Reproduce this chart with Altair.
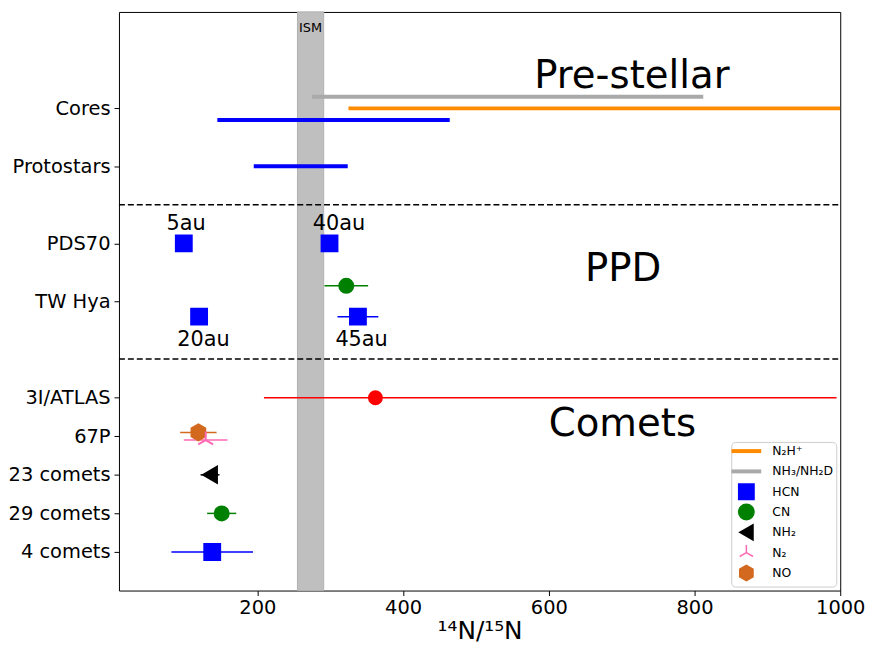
import altair as alt
import pandas as pd

FONT = "DejaVu Sans"

# ---- y-axis categories ----
cat_names = ["4 comets", "29 comets", "23 comets", "67P", "3I/ATLAS", "TW Hya", "PDS70", "Protostars", "Cores"]
cat_pos = [0, 1, 2, 3, 4, 6.5, 8, 10, 11.5]

# ---- legend species ----
species = ["N₂H⁺", "NH₃/NH₂D", "HCN", "CN", "NH₂", "N₂", "NO"]
species_colors = ["#ff8c00", "#a9a9a9", "#0000ff", "#008000", "#000000", "#ff69b4", "#d2691e"]
TRI_UP = "M0,0L0,-1M0,0L-0.866,0.5M0,0L0.866,0.5"
HEXAGON = "M0,-1L0.866,-0.5L0.866,0.5L0,1L-0.866,0.5L-0.866,-0.5Z"
species_shapes = ["stroke", "stroke", "square", "circle", "triangle-left", TRI_UP, HEXAGON]
species_sizes = [289, 289, 256, 200, 260, 300, 256]

# ---- thick range lines ----
rng_species = ["NH₃/NH₂D", "N₂H⁺", "HCN", "HCN"]
rng_y = [11.8, 11.5, 11.2, 10]
rng_lo = [275, 325, 145, 195]
rng_hi = [812, 1000, 464, 324]

# ---- points with error bars ----
pt_species = ["HCN", "HCN", "CN", "HCN", "HCN", "NO", "N₂", "NH₂", "CN", "HCN"]
pt_y = [8, 8, 6.9, 6.1, 6.1, 3.1, 2.9, 2, 1, 0]
pt_x = [99, 299, 322, 120, 338, 119, 129, 135, 151, 138]
pt_lo = [99, 299, 292, 120, 310, 94, 99, 122, 131, 82]
pt_hi = [99, 299, 352, 120, 366, 144, 159, 148, 171, 194]

# ---- 3I/ATLAS ----
atlas_y = [4]
atlas_x = [362]
atlas_lo = [209]
atlas_hi = [995]

# ---- ISM band ----
ism_lo = [255]
ism_hi = [291]

# ---- separators ----
sep_y = [5, 9]

# ---- labels ----
au_text = ["5au", "40au", "20au", "45au"]
au_x = [102, 312, 126, 343]
au_y = [8.5, 8.5, 5.5, 5.5]

big_text = ["Pre-stellar", "PPD", "Comets"]
big_x = [714, 702, 701]
big_y = [12.33, 7.33, 3.32]

ism_text = ["ISM"]
ism_tx = [273]
ism_ty = [13.58]

XDOM = [10, 1000]
YDOM = [-1, 14]

cmap = dict(zip(species, species_colors))
smap = dict(zip(species, species_sizes))

xs = alt.Scale(domain=XDOM, nice=False, zero=False)
ys = alt.Scale(domain=YDOM, nice=False, zero=False)

label_expr = ""
for p, n in zip(cat_pos, cat_names):
    label_expr += f"datum.value == {p} ? '{n}' : "
label_expr += "''"

y_axis = alt.Axis(values=cat_pos, labelExpr=label_expr, grid=False, tickSize=5,
                  labelFontSize=19.6, labelPadding=4, title=None, domain=False)
x_axis = alt.Axis(values=[200, 400, 600, 800, 1000], format="d", grid=False, tickSize=5, labelFontSize=19.6,
                  labelPadding=3, title="¹⁴N/¹⁵N", titleFontSize=25, titleFontWeight="normal",
                  titlePadding=2, domain=False, labelFlush=False)

# ISM band
ism_df = pd.DataFrame({"lo": ism_lo, "hi": ism_hi, "y0": [YDOM[0]], "y1": [YDOM[1]]})
ism = alt.Chart(ism_df).mark_rect(color="#bfbfbf", stroke="#b0b0b0", strokeWidth=1).encode(
    x=alt.X("lo:Q", scale=xs, axis=x_axis), x2="hi:Q",
    y=alt.Y("y0:Q", scale=ys, axis=y_axis), y2="y1:Q")

# separators
sep_df = pd.DataFrame({"y": sep_y, "x0": XDOM[0], "x1": XDOM[1]})
sep = alt.Chart(sep_df).mark_rule(color="black", strokeWidth=1.5, strokeDash=[6, 3]).encode(
    x="x0:Q", x2="x1:Q", y="y:Q")

# range lines
rng_df = pd.DataFrame({"sp": rng_species, "y": rng_y, "lo": rng_lo, "hi": rng_hi})
rng_df["col"] = rng_df["sp"].map(cmap)
rng = alt.Chart(rng_df).mark_rule(strokeWidth=4, clip=True).encode(
    x="lo:Q", x2="hi:Q", y="y:Q", color=alt.Color("col:N", scale=None))

# points
pt_df = pd.DataFrame({"sp": pt_species, "y": pt_y, "x": pt_x, "lo": pt_lo, "hi": pt_hi})
pt_df["col"] = pt_df["sp"].map(cmap)
pt_df["sz"] = pt_df["sp"].map(smap)
err_df = pt_df[pt_df["hi"] > pt_df["lo"]]
err = alt.Chart(err_df).mark_rule(strokeWidth=1.5).encode(
    x="lo:Q", x2="hi:Q", y="y:Q", color=alt.Color("col:N", scale=None))

LINE_TEST = "indexof(['N₂H⁺','NH₃/NH₂D'], datum.value) >= 0"
leg = alt.Legend(title=None, orient="bottom-right", offset=4, fillColor="white", strokeColor="#cccccc",
                 cornerRadius=4, padding=3, labelFont=FONT, labelFontSize=12.5, labelColor="black",
                 symbolSize={"expr": f"{LINE_TEST} ? 900 : 240"},
                 symbolOffset=6, labelOffset=20, rowPadding=-1.5, gridAlign="all", symbolOpacity=1,
                 symbolStrokeWidth={"expr": f"{LINE_TEST} ? 4 : 1.5"})

csc = alt.Scale(domain=species, range=species_colors)
pts = alt.Chart(pt_df).mark_point(filled=True, opacity=1).encode(
    x="x:Q", y="y:Q",
    color=alt.Color("sp:N", scale=csc, legend=leg),
    stroke=alt.Stroke("sp:N", scale=csc, legend=leg),
    shape=alt.Shape("sp:N", scale=alt.Scale(domain=species, range=species_shapes), legend=leg),
    size=alt.Size("sz:Q", scale=None))

# 3I/ATLAS
atlas_df = pd.DataFrame({"y": atlas_y, "x": atlas_x, "lo": atlas_lo, "hi": atlas_hi})
atlas_err = alt.Chart(atlas_df).mark_rule(color="red", strokeWidth=1.5).encode(x="lo:Q", x2="hi:Q", y="y:Q")
atlas_pt = alt.Chart(atlas_df).mark_point(filled=True, shape="circle", color="red", size=227, opacity=1).encode(
    x="x:Q", y="y:Q")

# labels
au_df = pd.DataFrame({"t": au_text, "x": au_x, "y": au_y})
au = alt.Chart(au_df).mark_text(font=FONT, fontSize=21, color="black", align="center", baseline="middle").encode(
    x="x:Q", y="y:Q", text="t:N")

big_df = pd.DataFrame({"t": big_text, "x": big_x, "y": big_y})
big = alt.Chart(big_df).mark_text(font=FONT, fontSize=39, color="black", align="center", baseline="middle").encode(
    x="x:Q", y="y:Q", text="t:N")

ismt_df = pd.DataFrame({"t": ism_text, "x": ism_tx, "y": ism_ty})
ismt = alt.Chart(ismt_df).mark_text(font=FONT, fontSize=13, color="black", align="center", baseline="middle").encode(
    x="x:Q", y="y:Q", text="t:N")

chart = alt.layer(ism, sep, rng, err, atlas_err, pts, atlas_pt, au, big, ismt).properties(
    width=865, height=639, padding=0,
    autosize=alt.AutoSizeParams(type="fit", contains="padding")
).configure_view(stroke="black", strokeWidth=1).configure_axis(
    labelFont=FONT, titleFont=FONT, labelColor="black", titleColor="black", tickColor="black"
).configure_legend(labelFont=FONT)

chart.save("out.html", embed_options={"renderer": "svg", "actions": False})
